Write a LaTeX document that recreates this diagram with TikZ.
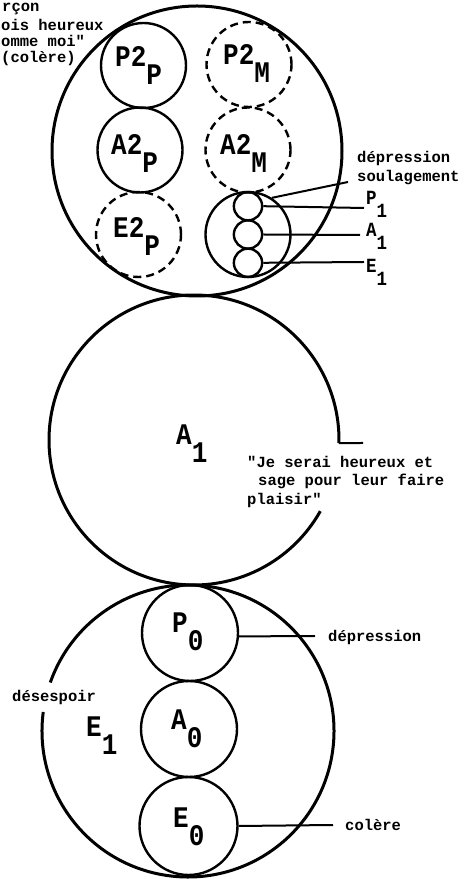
\documentclass[tikz,border=0pt]{standalone}
\usepackage{fontspec}
\usepackage{graphicx}
\newfontfamily\tw{Liberation Mono}
\newcommand\lbl[2]{\scalebox{1}[1.15]{#1}\raisebox{-18pt}{\scalebox{1}[1.15]{#2}}}
\newcommand\slbl[2]{\scalebox{1}[1.15]{#1}\raisebox{-13pt}{\scalebox{1}[1.15]{#2}}}
\tikzset{
  bigc/.style={circle, draw, line width=3pt, inner sep=0pt, minimum size=290pt},
  ring/.style={circle, draw, line width=2.4pt, inner sep=0pt},
  dring/.style={ring, dash pattern=on 8pt off 5pt},
  conn/.style={line width=2pt},
  ann/.style={font=\tw\bfseries\fontsize{15.5}{19}\selectfont, inner sep=0pt, anchor=west},
  sann/.style={font=\tw\bfseries\fontsize{17.5}{19}\selectfont, inner sep=0pt, anchor=base west},
  lab/.style={font=\tw\bfseries\fontsize{26}{26}\selectfont, inner sep=0pt, anchor=base west},
}
\begin{document}
\begin{tikzpicture}[x=1pt,y=1pt]
\useasboundingbox (0,0) rectangle (471,879);
% ---------- top circle ----------
\node[bigc] (top) at (197,728) {};
\node[ring, minimum size=85pt] (P2P) at (143.5,813.5) {};
\node[ring, minimum size=85pt] (A2P) at (140,729) {};
\node[dring, minimum size=85pt] (E2P) at (138.5,644.5) {};
\node[dring, minimum size=85pt] (P2M) at (249,814.5) {};
\node[dring, minimum size=85pt] (A2M) at (248,729) {};
\node[ring, minimum size=85pt] (S) at (248,644.5) {};
\node[ring, minimum size=28.3pt] (t1) at (248,672.8) {};
\node[ring, minimum size=28.3pt] (t2) at (248,644.5) {};
\node[ring, minimum size=28.3pt] (t3) at (248,616.2) {};
\node[lab] (lP2P) at (115,812) {\lbl{P2}{P}};
\node[lab] (lA2P) at (111,724) {\lbl{A2}{P}};
\node[lab] (lE2P) at (113,641) {\lbl{E2}{P}};
\node[lab] (lP2M) at (223,814) {\lbl{P2}{M}};
\node[lab] (lA2M) at (220,724) {\lbl{A2}{M}};
% right annotations
\node[ann] (dep1) at (357,721) {dépression};
\node[ann] (soul) at (357,701) {soulagement};
\node[sann] (P1) at (366,674) {\slbl{P}{1}};
\node[sann] (A1) at (366,642) {\slbl{A}{1}};
\node[sann] (E1) at (366,606) {\slbl{E}{1}};
\coordinate (soulend) at (348,697);
\coordinate (p1end) at (364,671);
\coordinate (a1end) at (360,644);
\coordinate (e1end) at (364,617);
\draw[conn] (S.57) -- (soulend);
\draw[conn] (t1.east) -- (p1end);
\draw[conn] (t2.east) -- (a1end);
\draw[conn] (t3.east) -- (e1end);
% top-left text
\node[ann] (tl0) at (2,870) {rçon};
\node[ann] (tl1) at (1,854) {ois heureux};
\node[ann] (tl2) at (1,838) {omme moi"};
\node[ann] (tl3) at (1,821) {(colère)};
% ---------- middle circle ----------
\coordinate (mc) at (194,439);
\draw[line width=3pt] ([shift={(-1.2:145)}]mc) coordinate (mgap)
   arc[start angle=-1.2, end angle=330.6, radius=145];
\coordinate (tick) at (363,436);
\draw[conn] (mgap) -- (tick);
\node[lab] (lA1) at (176,434) {\lbl{A}{1}};
\node[ann] (q1) at (247,417) {"Je serai heureux et};
\node[ann] (q2) at (258,398) {sage pour leur faire};
\node[ann] (q3) at (247,379) {plaisir"};
% ---------- bottom circle ----------
\coordinate (bc) at (188,148);
\draw[line width=3pt] ([shift={(172.5:146)}]bc)
   arc[start angle=172.5, end angle=520.6, radius=146];
\node[ring, minimum size=96pt] (P0) at (190,246) {};
\node[ring, minimum size=96pt] (A0) at (189,150) {};
\node[ring, minimum size=98pt] (E0) at (188.5,53) {};
\node[lab] (lP0) at (172,246) {\lbl{P}{0}};
\node[lab] (lA0) at (171,149) {\lbl{A}{0}};
\node[lab] (lE0) at (173,52) {\lbl{E}{0}};
\node[lab] (lE1) at (86,142) {\lbl{E}{1}};
\node[ann] (desesp) at (12,182) {désespoir};
\node[ann] (dep0) at (328,242) {dépression};
\node[ann] (col) at (345,54) {colère};
\coordinate (p0end) at (315,243);
\coordinate (e0end) at (333,54);
\draw[conn] (P0.-4) -- (p0end);
\draw[conn] (E0.east) -- (e0end);
\end{tikzpicture}
\end{document}
